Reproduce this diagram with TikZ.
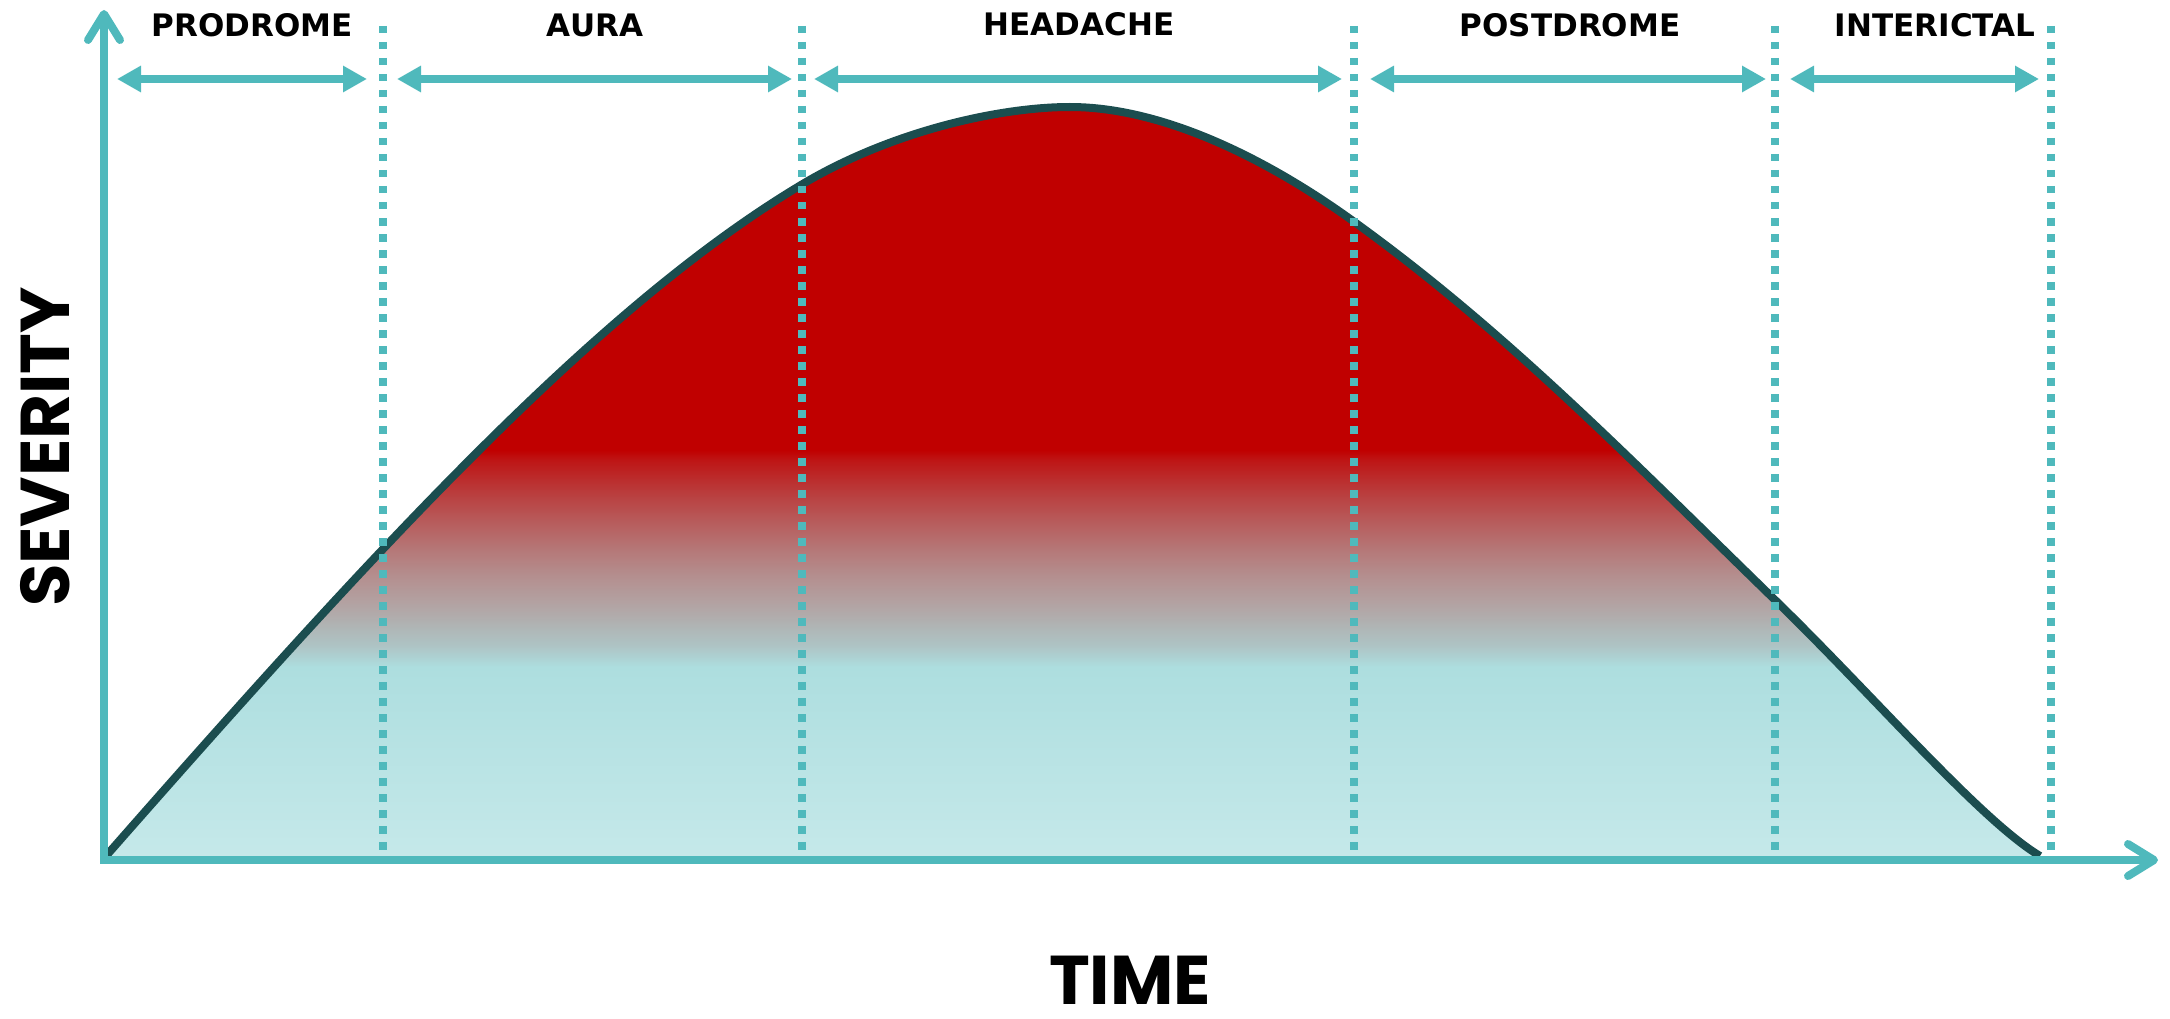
\documentclass[tikz,border=0pt]{standalone}
\usepackage{fontspec}
\newfontfamily\labfont{DejaVu Sans}
\newfontfamily\axfont{Poppins}
\usetikzlibrary{arrows.meta}
\definecolor{axteal}{HTML}{4FB9BC}
\definecolor{curvec}{HTML}{1B4D4F}
\definecolor{s00}{HTML}{C6E9EA}
\definecolor{s01}{HTML}{ADDEDF}
\definecolor{s02}{HTML}{ADD5D6}
\definecolor{s03}{HTML}{AEC3C4}
\definecolor{s04}{HTML}{AFB8B8}
\definecolor{s05}{HTML}{B1ABAB}
\definecolor{s06}{HTML}{B3A0A0}
\definecolor{s07}{HTML}{B48E8E}
\definecolor{s08}{HTML}{B57878}
\definecolor{s09}{HTML}{B75F5F}
\definecolor{s10}{HTML}{B94545}
\definecolor{s11}{HTML}{BB2E2E}
\definecolor{s12}{HTML}{BE1515}
\definecolor{s13}{HTML}{C00000}
\pgfdeclareverticalshading{sevshade}{100bp}{color(0bp)=(s00); color(25bp)=(s00); color(37.96bp)=(s01); color(38.42bp)=(s02); color(39.41bp)=(s03); color(40.39bp)=(s04); color(41.38bp)=(s05); color(42.37bp)=(s06); color(44.01bp)=(s07); color(45.66bp)=(s08); color(47.30bp)=(s09); color(48.95bp)=(s10); color(50.26bp)=(s11); color(51.58bp)=(s12); color(52.24bp)=(s13); color(100bp)=(s13)}
\tikzset{
  axisline/.style={draw=axteal, line width=8pt, line join=miter,
    {Straight Barb[length=26pt, width=32pt, line cap=round, line join=round]}-{Straight Barb[length=26pt, width=32pt, line cap=round, line join=round]}},
  curveline/.style={draw=curvec, line width=8pt},
  dotline/.style={draw=axteal, line width=8pt, dash pattern=on 7.5pt off 8.5pt},
  spanarrow/.style={draw=axteal, line width=7.5pt, {Triangle[length=24pt, width=25pt]}-{Triangle[length=24pt, width=25pt]}},
  phaselab/.style={inner sep=0pt, font=\labfont\bfseries\fontsize{31}{31}\selectfont, text=black},
  axislab/.style={inner sep=0pt, font=\axfont\bfseries\fontsize{69}{69}\selectfont, text=black}
}
\begin{document}
\begin{tikzpicture}[x=1pt, y=-1pt]
\useasboundingbox (0,0) rectangle (2170,1019);
% fill under curve
\begin{scope}
\clip (106,856) .. controls (386,537) and (601,305) .. (801,185)
  .. controls (891,131) and (1000,107) .. (1070,107)
  .. controls (1160,107) and (1263,156) .. (1353,221)
  .. controls (1503,329) and (1623,452) .. (1773,598)
  .. controls (1873,695) and (1980,820) .. (2040,856)
  -- (2040,860) -- (106,860) -- cycle;
\shade[shading=sevshade] (100,864) rectangle (2045,104);
\end{scope}
% curve
\draw[curveline] (106,856) .. controls (386,537) and (601,305) .. (801,185)
  .. controls (891,131) and (1000,107) .. (1070,107)
  .. controls (1160,107) and (1263,156) .. (1353,221)
  .. controls (1503,329) and (1623,452) .. (1773,598)
  .. controls (1873,695) and (1980,820) .. (2040,856);
% axes
\coordinate (O) at (104,860);
\coordinate (ytop) at (104,10);
\coordinate (xend) at (2158,860);
\draw[axisline] (ytop) -- (O) -- (xend);
% dotted phase boundaries
\foreach \x [count=\i] in {383,802,1354,1775,2051}{
  \coordinate (dt\i) at (\x,26);
  \coordinate (db\i) at (\x,860);
  \draw[dotline] (dt\i) -- (db\i);
}
% span arrows
\coordinate (a1l) at (117,79);  \coordinate (a1r) at (367,79);
\coordinate (a2l) at (397,79);  \coordinate (a2r) at (792,79);
\coordinate (a3l) at (814,79);  \coordinate (a3r) at (1342,79);
\coordinate (a4l) at (1370,79); \coordinate (a4r) at (1766,79);
\coordinate (a5l) at (1790,79); \coordinate (a5r) at (2039,79);
\draw[spanarrow] (a1l) -- (a1r);
\draw[spanarrow] (a2l) -- (a2r);
\draw[spanarrow] (a3l) -- (a3r);
\draw[spanarrow] (a4l) -- (a4r);
\draw[spanarrow] (a5l) -- (a5r);
% labels
\node[phaselab] (lprod) at (252,25) {PRODROME};
\node[phaselab] (laura) at (595,25) {AURA};
\node[phaselab] (lhead) at (1079,24) {HEADACHE};
\node[phaselab] (lpost) at (1570,25) {POSTDROME};
\node[phaselab] (linter) at (1935,25) {INTERICTAL};
\node[axislab] (ltime) at (1130,980) {TIME};
\node[axislab, rotate=90] (lsev) at (45,447) {SEVERITY};
\end{tikzpicture}
\end{document}
